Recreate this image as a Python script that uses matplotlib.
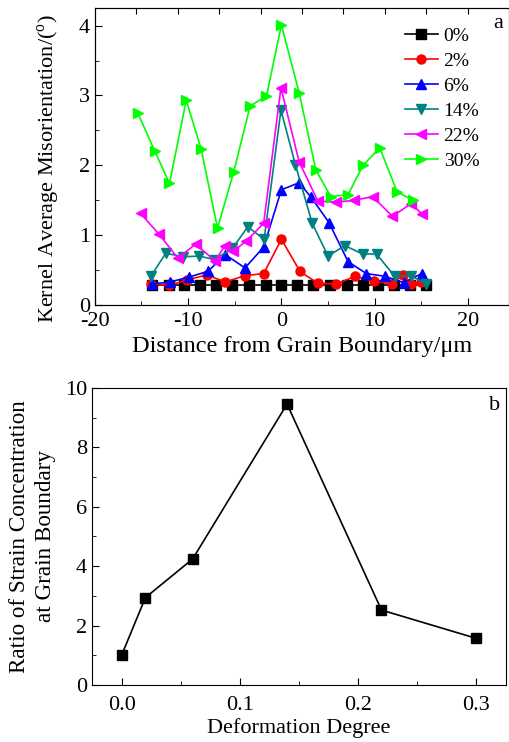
import matplotlib
matplotlib.use('Agg')
import matplotlib.pyplot as plt
from matplotlib.ticker import MultipleLocator

plt.rcParams['font.family'] = ['Liberation Serif', 'DejaVu Serif']
plt.rcParams['mathtext.fontset'] = 'custom'
plt.rcParams['mathtext.rm'] = 'Liberation Serif'
plt.rcParams['axes.unicode_minus'] = False

# (a) kernel average misorientation vs distance from grain boundary
x_0 = [-13.9, -12.1, -10.4, -8.7, -7.0, -5.25, -3.5, -1.7, 0, 1.7, 3.4, 5.2, 7.0, 8.7, 10.4, 12.1, 13.8, 15.5]
y_0 = [0.29] * 18

x_2 = [-14.0, -12.0, -10.1, -8.0, -6.0, -3.9, -1.9, 0.0, 2.0, 3.9, 5.9, 7.9, 9.9, 11.9, 13.0, 13.9, 15.0]
y_2 = [0.30, 0.28, 0.36, 0.43, 0.33, 0.42, 0.45, 0.94, 0.48, 0.31, 0.30, 0.41, 0.34, 0.30, 0.43, 0.30, 0.33]

x_6 = [-13.9, -11.9, -9.9, -7.9, -6.0, -3.9, -1.9, 0.0, 1.9, 3.2, 5.1, 7.15, 9.1, 11.1, 13.1, 15.05]
y_6 = [0.30, 0.33, 0.40, 0.48, 0.72, 0.53, 0.83, 1.65, 1.75, 1.54, 1.18, 0.62, 0.45, 0.41, 0.32, 0.45]

x_14 = [-14.0, -12.4, -10.5, -8.8, -7.2, -5.25, -3.6, -1.85, -0.05, 1.5, 3.3, 5.0, 6.8, 8.7, 10.2, 12.15, 13.9, 15.5]
y_14 = [0.41, 0.74, 0.69, 0.70, 0.65, 0.81, 1.12, 0.94, 2.79, 2.01, 1.17, 0.70, 0.85, 0.73, 0.73, 0.41, 0.42, 0.30]

x_22 = [-15.1, -13.1, -11.1, -9.2, -7.1, -6.1, -5.2, -3.8, -1.9, -0.05, 1.9, 3.9, 5.9, 7.8, 9.8, 11.9, 13.9, 15.1]
y_22 = [1.31, 1.01, 0.67, 0.87, 0.63, 0.84, 0.77, 0.91, 1.17, 3.11, 2.05, 1.49, 1.47, 1.50, 1.55, 1.27, 1.45, 1.30]

x_30 = [-15.4, -13.6, -12.0, -10.2, -8.6, -6.85, -5.1, -3.35, -1.6, 0.0, 1.9, 3.7, 5.3, 7.15, 8.75, 10.55, 12.4, 14.1]
y_30 = [2.75, 2.21, 1.74, 2.93, 2.23, 1.10, 1.91, 2.85, 2.99, 4.01, 3.04, 1.93, 1.55, 1.58, 2.00, 2.25, 1.62, 1.50]

series = [
    ('0%', x_0, y_0, 'black', 's'),
    ('2%', x_2, y_2, '#ff0000', 'o'),
    ('6%', x_6, y_6, '#0000ff', '^'),
    ('14%', x_14, y_14, '#008080', 'v'),
    ('22%', x_22, y_22, '#ff00ff', '<'),
    ('30%', x_30, y_30, '#00ff00', '>'),
]

# (b) ratio of strain concentration vs deformation degree
deform = [0.0, 0.02, 0.06, 0.14, 0.22, 0.30]
ratio = [1.01, 2.94, 4.24, 9.46, 2.52, 1.57]

fig = plt.figure(figsize=(5.10, 7.42), dpi=100)

# top panel
ax1 = fig.add_axes([0.186, 0.589, 0.812, 0.400])
for label, xs, ys, c, m in series:
    ax1.plot(xs, ys, color=c, marker=m, markersize=6.5, linewidth=1.2, label=label)
ax1.set_xlim(-20, 24.4)
ax1.set_ylim(0, 4.25)
ax1.xaxis.set_major_locator(MultipleLocator(10))
ax1.xaxis.set_minor_locator(MultipleLocator(5))
ax1.yaxis.set_major_locator(MultipleLocator(1))
ax1.yaxis.set_minor_locator(MultipleLocator(0.5))
ax1.tick_params(which='both', direction='in', labelsize=16)
ax1.tick_params(which='major', length=5)
ax1.tick_params(which='minor', length=3)
ax1.tick_params(axis='x', pad=5)
ax1.set_xlabel('Distance from Grain Boundary/\u03bcm', fontsize=17.5, labelpad=4)
ax1.set_ylabel('Kernel Average Misorientation/($^\\mathregular{o}$)', fontsize=16)
ax1.yaxis.set_label_coords(-0.08, 0.46)
ax1.text(0.985, 0.95, 'a', transform=ax1.transAxes, fontsize=16, ha='right', va='center')
ax1.legend(loc='upper left', bbox_to_anchor=(0.72, 0.975), frameon=False, fontsize=14,
           handlelength=1.7, handletextpad=0.3, labelspacing=0.38, borderaxespad=0.2)
# top ticks split the frame into equal parts
top = ax1.twiny()
top.set_xlim(0, 10)
top.set_xticks(range(1, 10))
top.tick_params(direction='in', length=4, labeltop=False)

# bottom panel
ax2 = fig.add_axes([0.180, 0.077, 0.812, 0.400])
ax2.plot(deform, ratio, color='black', marker='s', markersize=6.5, linewidth=1.2)
ax2.set_xlim(-0.0254, 0.3254)
ax2.set_ylim(0, 10)
ax2.xaxis.set_major_locator(MultipleLocator(0.1))
ax2.xaxis.set_minor_locator(MultipleLocator(0.05))
ax2.yaxis.set_major_locator(MultipleLocator(2))
ax2.yaxis.set_minor_locator(MultipleLocator(1))
ax2.tick_params(which='both', direction='in', labelsize=16)
ax2.tick_params(which='major', length=5)
ax2.tick_params(which='minor', length=3)
ax2.tick_params(axis='x', pad=8)
ax2.set_xlabel('Deformation Degree', fontsize=16, labelpad=2)
ax2.set_ylabel('Ratio of Strain Concentration\nat Grain Boundary', fontsize=16.7, labelpad=6,
               linespacing=1.35)
ax2.text(0.985, 0.94, 'b', transform=ax2.transAxes, fontsize=16, ha='right', va='center')

fig.savefig('out.png', dpi=100)
